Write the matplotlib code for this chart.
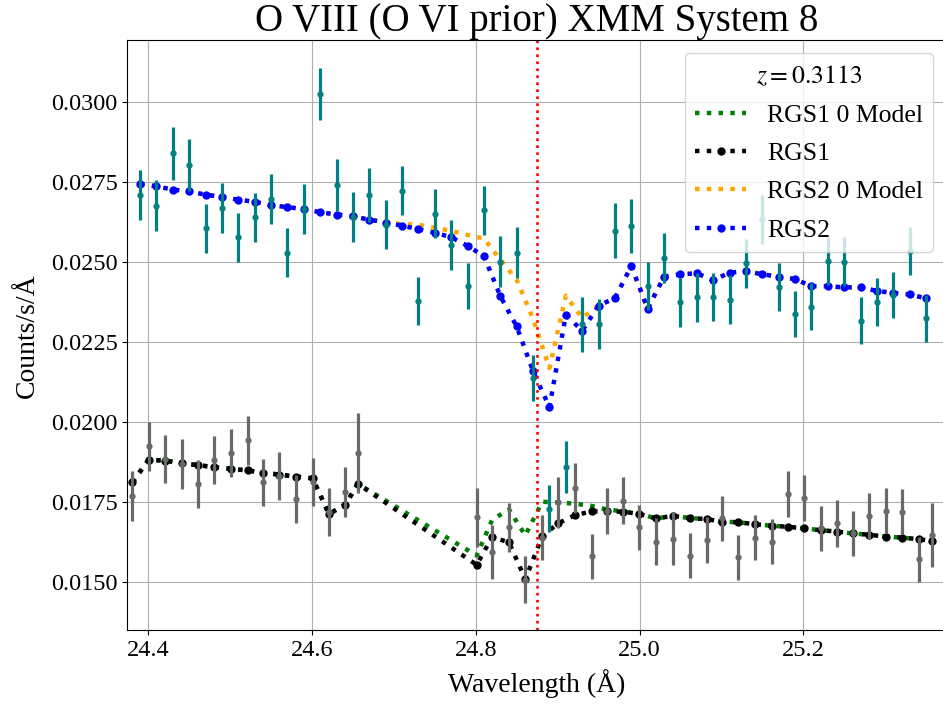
#coding: utf-8
import matplotlib
matplotlib.use('Agg')
import matplotlib.pyplot as plt
from matplotlib.ticker import MultipleLocator

plt.rcParams['font.family'] = ['Liberation Serif', 'DejaVu Serif']
plt.rcParams['mathtext.fontset'] = 'stix'

# RGS2 bins (Angstrom)
wl2 = [24.39, 24.41, 24.43, 24.45, 24.47, 24.49, 24.51, 24.53, 24.55, 24.57,
	24.59, 24.61, 24.63, 24.65, 24.67, 24.69, 24.71, 24.73, 24.75, 24.77,
	24.79, 24.81, 24.83, 24.85, 24.87, 24.89, 24.91, 24.93, 24.95, 24.97,
	24.99, 25.01, 25.03, 25.05, 25.07, 25.09, 25.11, 25.13, 25.15, 25.17,
	25.19, 25.21, 25.23, 25.25, 25.27, 25.29, 25.31, 25.33, 25.35]
rgs2_data = [0.02710, 0.02676, 0.02839, 0.02804, 0.02605, 0.02668, 0.02577, 0.02639, 0.02697, 0.02529,
	0.02665, 0.03025, 0.02739, 0.02639, 0.02710, 0.02616, 0.02723, 0.02379, 0.02651, 0.02552,
	0.02424, 0.02661, 0.02501, 0.02529, 0.02137, 0.01729, 0.01858, 0.02305, 0.02307, 0.02597,
	0.02613, 0.02425, 0.02511, 0.02374, 0.02389, 0.02390, 0.02382, 0.02495, 0.02633, 0.02421,
	0.02337, 0.02360, 0.02504, 0.02501, 0.02316, 0.02374, 0.02396, 0.02534, 0.02323]
rgs2_err = [0.00078, 0.00079, 0.00082, 0.00081, 0.00077, 0.00079, 0.00077, 0.00077, 0.00078, 0.00076,
	0.00077, 0.00082, 0.00081, 0.00078, 0.00084, 0.00077, 0.00077, 0.00075, 0.00077, 0.00078,
	0.00072, 0.00077, 0.00080, 0.00081, 0.00073, 0.00073, 0.00081, 0.00086, 0.00078, 0.00086,
	0.00085, 0.00075, 0.00078, 0.00077, 0.00077, 0.00074, 0.00077, 0.00076, 0.00076, 0.00074,
	0.00073, 0.00074, 0.00075, 0.00076, 0.00074, 0.00074, 0.00073, 0.00075, 0.00073]
rgs2_model = [0.02743, 0.02736, 0.02726, 0.02720, 0.02710, 0.02703, 0.02694, 0.02688, 0.02677, 0.02671,
	0.02665, 0.02655, 0.02648, 0.02642, 0.02632, 0.02623, 0.02613, 0.02602, 0.02591, 0.02577,
	0.02550, 0.02518, 0.02393, 0.02298, 0.02158, 0.02046, 0.02334, 0.02285, 0.02363, 0.02387,
	0.02487, 0.02353, 0.02454, 0.02461, 0.02464, 0.02443, 0.02466, 0.02471, 0.02461, 0.02454,
	0.02446, 0.02424, 0.02424, 0.02420, 0.02421, 0.02409, 0.02403, 0.02398, 0.02386]
rgs2_model0 = [0.02743, 0.02736, 0.02726, 0.02720, 0.02710, 0.02703, 0.02694, 0.02688, 0.02677, 0.02671,
	0.02665, 0.02655, 0.02648, 0.02642, 0.02632, 0.02625, 0.02618, 0.02616, 0.02606, 0.02597,
	0.02584, 0.02573, 0.02507, 0.02444, 0.02322, 0.02168, 0.02394, 0.02325, 0.02363, 0.02387,
	0.02487, 0.02353, 0.02454, 0.02461, 0.02464, 0.02443, 0.02466, 0.02471, 0.02461, 0.02454,
	0.02446, 0.02424, 0.02424, 0.02420, 0.02421, 0.02409, 0.02403, 0.02398, 0.02386]

# RGS1 bins (Angstrom)
wl1 = [24.3805, 24.4004, 24.4204, 24.4408, 24.4603, 24.4806, 24.5010, 24.5214, 24.5400, 24.5600,
	24.5804, 24.6008, 24.6207, 24.6406, 24.6561, 24.8011, 24.8201, 24.8406, 24.8605, 24.8812,
	24.9008, 24.9212, 24.9416, 24.9600, 24.9802, 24.9997, 25.0205, 25.0412, 25.0616, 25.0820,
	25.1003, 25.1206, 25.1410, 25.1614, 25.1810, 25.2012, 25.2216, 25.2408, 25.2603, 25.2806,
	25.3010, 25.3209, 25.3413, 25.3568]
rgs1_data = [0.01769, 0.01923, 0.01884, 0.01868, 0.01806, 0.01881, 0.01902, 0.01942, 0.01811, 0.01830,
	0.01759, 0.01811, 0.01717, 0.01780, 0.01903, 0.01701, 0.01594, 0.01670, 0.01506, 0.01638,
	0.01748, 0.01793, 0.01579, 0.01722, 0.01753, 0.01670, 0.01625, 0.01635, 0.01581, 0.01631,
	0.01698, 0.01576, 0.01638, 0.01625, 0.01774, 0.01761, 0.01667, 0.01683, 0.01651, 0.01707,
	0.01722, 0.01719, 0.01570, 0.01647]
rgs1_err = [0.00078, 0.00076, 0.00076, 0.00077, 0.00074, 0.00075, 0.00075, 0.00077, 0.00074, 0.00075,
	0.00075, 0.00075, 0.00075, 0.00079, 0.00125, 0.00091, 0.00084, 0.00077, 0.00073, 0.00071,
	0.00080, 0.00079, 0.00069, 0.00072, 0.00073, 0.00070, 0.00073, 0.00082, 0.00070, 0.00072,
	0.00070, 0.00069, 0.00070, 0.00070, 0.00071, 0.00072, 0.00071, 0.00073, 0.00071, 0.00072,
	0.00071, 0.00071, 0.00071, 0.00100]
rgs1_model = [0.01811, 0.01881, 0.01879, 0.01870, 0.01865, 0.01858, 0.01853, 0.01848, 0.01841, 0.01835,
	0.01829, 0.01823, 0.01712, 0.01741, 0.01806, 0.01553, 0.01640, 0.01623, 0.01508, 0.01642,
	0.01683, 0.01708, 0.01720, 0.01720, 0.01719, 0.01712, 0.01698, 0.01706, 0.01699, 0.01696,
	0.01688, 0.01686, 0.01680, 0.01675, 0.01672, 0.01667, 0.01661, 0.01657, 0.01651, 0.01647,
	0.01641, 0.01638, 0.01633, 0.01628]
rgs1_model0 = [0.01811, 0.01881, 0.01879, 0.01870, 0.01865, 0.01858, 0.01853, 0.01848, 0.01841, 0.01835,
	0.01829, 0.01823, 0.01712, 0.01741, 0.01806, 0.01582, 0.01694, 0.01726, 0.01645, 0.01750,
	0.01748, 0.01744, 0.01737, 0.01726, 0.01720, 0.01712, 0.01698, 0.01706, 0.01699, 0.01696,
	0.01688, 0.01686, 0.01680, 0.01675, 0.01672, 0.01667, 0.01661, 0.01657, 0.01651, 0.01647,
	0.01641, 0.01638, 0.01633, 0.01628]

line_wl = 24.8745
redshift = 0.3113
xrange_ = (24.3745, 25.3745)
yrange_ = (0.01349, 0.03192)


def _model_line(ax, x, y, col, lab, mak=None):
	ax.plot(x, y, ls=':', lw=3.2, color=col, marker=mak, markersize=5, label=lab)


def _data_bars(ax, x, y, e, col):
	ax.errorbar(x, y, yerr=e, fmt='o', color=col, markersize=3.5, elinewidth=2.3, capsize=0)


def plot_system():
	fig = plt.figure(figsize=(9.43, 7.04), dpi=100)
	ax = fig.add_axes([0.1351, 0.105, 0.8682, 0.8375])

	_model_line(ax, wl1, rgs1_model0, 'green', 'RGS1 0 Model')
	_model_line(ax, wl1, rgs1_model, 'black', 'RGS1', 'o')
	_model_line(ax, wl2, rgs2_model0, 'orange', 'RGS2 0 Model')
	_model_line(ax, wl2, rgs2_model, 'blue', 'RGS2', 'o')

	_data_bars(ax, wl1, rgs1_data, rgs1_err, 'dimgrey')
	_data_bars(ax, wl2, rgs2_data, rgs2_err, 'teal')

	ax.axvline(line_wl, ls=':', lw=1.9, color='red')

	ax.set_xlim(*xrange_)
	ax.set_ylim(*yrange_)
	ax.xaxis.set_major_locator(MultipleLocator(0.2))
	ax.yaxis.set_major_locator(MultipleLocator(0.0025))
	ax.yaxis.set_major_formatter(plt.FormatStrFormatter('%.4f'))
	ax.tick_params(labelsize=17.5)
	ax.grid(True)
	ax.set_axisbelow(True)

	ax.set_title('O VIII (O VI prior) XMM System 8', fontsize=28)
	ax.set_xlabel('Wavelength (Å)', fontsize=20, labelpad=6)
	ax.set_ylabel('Counts/s/Å', fontsize=20, labelpad=8)

	leg = ax.legend(loc='upper right', fontsize=18.5, labelspacing=0.6,
		title='$z=%.4f$' % redshift)
	leg.get_title().set_fontsize(18.5)

	fig.savefig('out.png', dpi=100)
	plt.close(fig)


if __name__ == '__main__':
	plot_system()
